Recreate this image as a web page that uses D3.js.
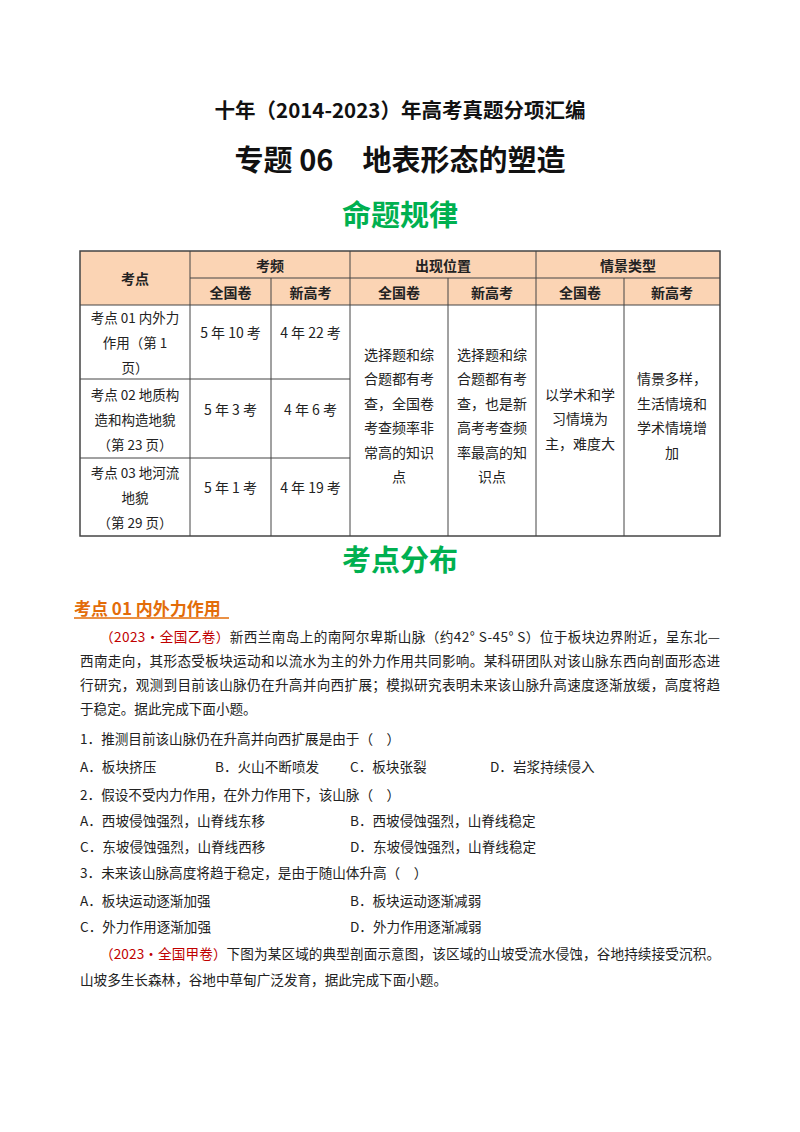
<!DOCTYPE html>
<html><head><meta charset="utf-8">
<script src="https://cdn.jsdelivr.net/npm/d3@7"></script>
<style>body{margin:0;background:#fff}svg{display:block}text{font-family:"Noto Sans CJK SC",sans-serif}</style>
</head><body>
<script>
const colEdges=[80,190,271,350,448,536,624,720];
const headerGroups=[{t:"考频",c0:1,c1:3},{t:"出现位置",c0:3,c1:5},{t:"情景类型",c0:5,c1:7}];
const subHeaders=["全国卷","新高考","全国卷","新高考","全国卷","新高考"];
const rowEdges=[251,278,305,379,458,536];
const kaodian=[["考点 01 内外力","作用（第 1","页）"],["考点 02 地质构","造和构造地貌","（第 23 页）"],["考点 03 地河流","地貌","（第 29 页）"]];
const quanguo=["5 年 10 考","5 年 3 考","5 年 1 考"];
const xingaokao=["4 年 22 考","4 年 6 考","4 年 19 考"];
const mergedCols=[["选择题和综","合题都有考","查，全国卷","考查频率非","常高的知识","点"],["选择题和综","合题都有考","查，也是新","高考考查频","率最高的知","识点"],["以学术和学","习情境为","主，难度大"],["情景多样，","生活情境和","学术情境增","加"]];
const bodyLines=[
 {x:100,y:636,segs:[["（2023·全国乙卷）","#c00000"],["新西兰南岛上的南阿尔卑斯山脉（约42° S-45° S）位于板块边界附近，呈东北—","#222"]]},
 {x:80,y:660,segs:[["西南走向，其形态受板块运动和以流水为主的外力作用共同影响。某科研团队对该山脉东西向剖面形态进","#222"]]},
 {x:80,y:684,segs:[["行研究，观测到目前该山脉仍在升高并向西扩展；模拟研究表明未来该山脉升高速度逐渐放缓，高度将趋","#222"]]},
 {x:80,y:708,segs:[["于稳定。据此完成下面小题。","#222"]]},
 {x:80,y:738,segs:[["1．推测目前该山脉仍在升高并向西扩展是由于（　）","#222"]]},
 {x:80,y:794,segs:[["2．假设不受内力作用，在外力作用下，该山脉（　）","#222"]]},
 {x:80,y:872,segs:[["3．未来该山脉高度将趋于稳定，是由于随山体升高（　）","#222"]]},
 {x:100,y:953,segs:[["（2023·全国甲卷）","#c00000"],["下图为某区域的典型剖面示意图，该区域的山坡受流水侵蚀，谷地持续接受沉积。","#222"]]},
 {x:80,y:979,segs:[["山坡多生长森林，谷地中草甸广泛发育，据此完成下面小题。","#222"]]}];
const options=[
 {y:766,items:[[80,"A．板块挤压"],[215,"B．火山不断喷发"],[350,"C．板块张裂"],[490,"D．岩浆持续侵入"]]},
 {y:820,items:[[80,"A．西坡侵蚀强烈，山脊线东移"],[350,"B．西坡侵蚀强烈，山脊线稳定"]]},
 {y:846,items:[[80,"C．东坡侵蚀强烈，山脊线西移"],[350,"D．东坡侵蚀强烈，山脊线稳定"]]},
 {y:900,items:[[80,"A．板块运动逐渐加强"],[350,"B．板块运动逐渐减弱"]]},
 {y:926,items:[[80,"C．外力作用逐渐加强"],[350,"D．外力作用逐渐减弱"]]}];

const svg=d3.select("body").append("svg").attr("width",800).attr("height",1132);
const T=(x,y,s,o={})=>svg.append("text").attr("x",x).attr("y",y).attr("dominant-baseline","central")
 .attr("text-anchor",o.a||"middle").attr("font-size",o.fs||14).attr("font-weight",o.fw||"normal").attr("fill",o.c||"#222").text(s);

T(400,109,"十年（2014-2023）年高考真题分项汇编",{fs:20.5,fw:"bold",c:"#111"});
T(400,158,"专题 06　地表形态的塑造",{fs:29,fw:"bold",c:"#111"});
T(400,213,"命题规律",{fs:29,fw:"bold",c:"#00b050"});
T(400,558,"考点分布",{fs:29,fw:"bold",c:"#00b050"});

const hdr="#fbd4b4";
svg.append("rect").attr("x",80).attr("y",251).attr("width",640).attr("height",54).attr("fill",hdr);
const g=svg.append("g").attr("stroke","#444").attr("stroke-width",1).attr("fill","none");
g.append("rect").attr("x",80).attr("y",251).attr("width",640).attr("height",285).attr("stroke-width",1.5);
g.append("line").attr("x1",190).attr("x2",720).attr("y1",278).attr("y2",278);
g.append("line").attr("x1",80).attr("x2",720).attr("y1",305).attr("y2",305);
colEdges.slice(1,-1).forEach((x,i)=>{const c=i+1;g.append("line").attr("x1",x).attr("x2",x).attr("y1",[1,3,5].includes(c)?251:278).attr("y2",536);});
[379,458].forEach(y=>g.append("line").attr("x1",80).attr("x2",350).attr("y1",y).attr("y2",y));
T(135,278,"考点",{fw:"bold"});
headerGroups.forEach(h=>T((colEdges[h.c0]+colEdges[h.c1])/2,264.5,h.t,{fw:"bold"}));
subHeaders.forEach((s,i)=>T((colEdges[i+1]+colEdges[i+2])/2,291.5,s,{fw:"bold"}));
kaodian.forEach((ls,r)=>{const cy=(rowEdges[r+2]+rowEdges[r+3])/2;ls.forEach((l,k)=>T(135,cy+(k-1)*25,l,{fs:13.5}));
 T(230.5,cy-10,quanguo[r],{fs:14});T(310.5,cy-10,xingaokao[r],{fs:14});});
mergedCols.forEach((ls,i)=>{const cx=(colEdges[i+3]+colEdges[i+4])/2;const cy=[415,415,418,415][i];
 ls.forEach((l,k)=>T(cx,cy+(k-(ls.length-1)/2)*24.5,l,{fs:14}));});

T(74,607,"考点 01 内外力作用",{a:"start",fs:17,fw:"bold",c:"#e36c09"});
svg.append("line").attr("x1",74).attr("x2",229).attr("y1",618).attr("y2",618).attr("stroke","#e36c09").attr("stroke-width",1.5);

bodyLines.forEach(b=>{const t=svg.append("text").attr("x",b.x).attr("y",b.y).attr("dominant-baseline","central").attr("font-size",13.6);
 if(b.x==80&&b.segs.length==1&&b.segs[0][0].length>40)t.attr("textLength",640).attr("lengthAdjust","spacing");
 if(b.segs.length>1)t.attr("textLength",620).attr("lengthAdjust","spacing");
 b.segs.forEach(s=>t.append("tspan").attr("fill",s[1]).text(s[0]));});
options.forEach(o=>o.items.forEach(it=>T(it[0],o.y,it[1],{a:"start",fs:13.6})));
</script>
</body></html>
